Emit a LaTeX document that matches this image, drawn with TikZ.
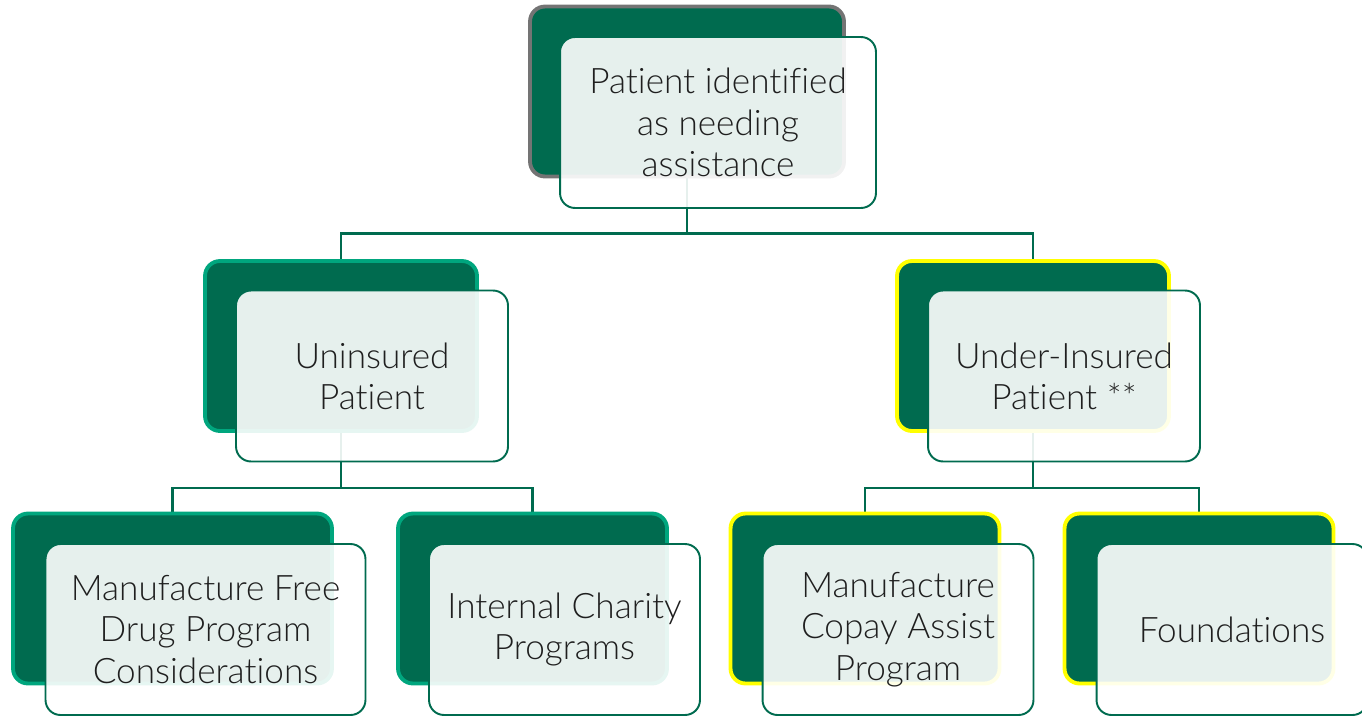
\documentclass[tikz,border=0pt]{standalone}
\usepackage{fontspec}
\setmainfont{Lato Light}[Ligatures=NoCommon]
\usepackage{tikz}
\usetikzlibrary{positioning}
\pgfdeclarelayer{background}
\pgfsetlayers{background,main}
\definecolor{dkgreen}{HTML}{006B4F}
\definecolor{tealrim}{HTML}{00A67E}
\definecolor{grayrim}{HTML}{747474}
\definecolor{yellowrim}{HTML}{FFFF00}
\tikzset{
    backbox/.style={
        rectangle,
        rounded corners=8.5pt,
        fill=dkgreen,
        line width=2.2pt,
        minimum height=3.4cm
    },
    frontbox/.style={
        rectangle,
        rounded corners=8.5pt,
        draw=dkgreen, line width=1.1pt,
        fill=white, fill opacity=0.9, text opacity=1,
        minimum height=3.42cm,
        align=center,
        text=black!88,
        font={\fontsize{20pt}{23.5pt}\selectfont}
    },
    conn/.style={draw=dkgreen, line width=1.3pt},
}
\begin{document}
\begin{tikzpicture}[x=0.02cm, y=-0.02cm]
    \useasboundingbox (0,0) rectangle (1362,717);

    % back boxes
    \node[backbox, draw=grayrim, minimum width=6.28cm]   (b0) at (687,91.5)   {};
    \node[backbox, draw=tealrim, minimum width=5.44cm]   (b1) at (341,346)    {};
    \node[backbox, draw=yellowrim, minimum width=5.44cm] (b2) at (1033,346)   {};
    \node[backbox, draw=tealrim, minimum width=6.38cm]   (b3) at (172.5,598.5) {};
    \node[backbox, draw=tealrim, minimum width=5.38cm]   (b4) at (532.5,598.5) {};
    \node[backbox, draw=yellowrim, minimum width=5.38cm] (b5) at (865,598.5)  {};
    \node[backbox, draw=yellowrim, minimum width=5.38cm] (b6) at (1199,598.5) {};

    % front boxes with the texts
    \node[frontbox, minimum width=6.32cm] (f0) at ([shift={(31,31)}]b0.center)
        {Patient identified\\as needing\\assistance};
    \node[frontbox, minimum width=5.44cm] (f1) at ([shift={(31,30)}]b1.center)
        {Uninsured\\Patient};
    \node[frontbox, minimum width=5.44cm] (f2) at ([shift={(31,30)}]b2.center)
        {Under-Insured\\Patient **};
    \node[frontbox, minimum width=6.4cm]  (f3) at ([shift={(33,31)}]b3.center)
        {Manufacture Free\\Drug Program\\Considerations};
    \node[frontbox, minimum width=5.42cm] (f4) at ([shift={(32,31)}]b4.center)
        {Internal Charity\\Programs};
    \node[frontbox, minimum width=5.42cm] (f5) at ([shift={(33,31)}]b5.center)
        {Manufacture\\Copay Assist\\Program};
    \node[frontbox, minimum width=5.42cm] (f6) at ([shift={(33,31)}]b6.center)
        {Foundations};

    % connectors behind the boxes
    \begin{pgfonlayer}{background}
        \draw[conn] (b0.south) -- +(0,55) -| (b1.north);
        \draw[conn] (b0.south) -- +(0,55) -| (b2.north);
        \draw[conn] (b1.south) -- +(0,55) -| (b3.north);
        \draw[conn] (b1.south) -- +(0,55) -| (b4.north);
        \draw[conn] (b2.south) -- +(0,55) -| (b5.north);
        \draw[conn] (b2.south) -- +(0,55) -| (b6.north);
    \end{pgfonlayer}
\end{tikzpicture}
\end{document}
